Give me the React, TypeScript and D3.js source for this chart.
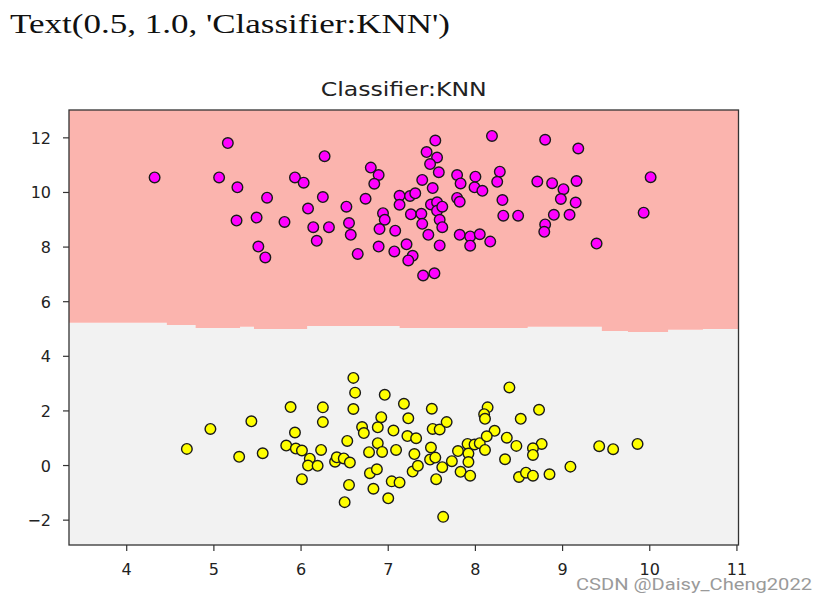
import React from "react";
import * as d3 from "d3";

// ---- data ----
const xTicks = [4, 5, 6, 7, 8, 9, 10, 11];
const yTicks = [-2, 0, 2, 4, 6, 8, 10, 12];
const xDomain = [3.338, 11.018];
const yDomain = [-2.91, 13.02];

// decision boundary of the KNN classifier (step edge between the two regions)
const boundaryX = [3.338, 4.46, 4.79, 5.3, 5.46, 6.07, 7.13, 8.6, 9.45, 9.75, 10.21, 10.61, 11.018];
const boundaryY = [5.23, 5.15, 5.04, 5.08, 5.0, 5.11, 5.04, 5.08, 4.93, 4.89, 4.97, 5.0, 5.0];

// class 0 (magenta)
const magentaX = [
  4.32, 5.16, 5.06, 5.27, 5.61, 5.26, 5.49, 5.81, 5.51, 5.59, 5.93, 6.03, 6.27, 6.08, 6.25, 6.14, 6.32, 6.18,
  6.52, 6.55, 6.57, 6.65, 6.8, 6.89, 6.84, 6.74, 6.94, 6.96, 6.9, 7.08, 6.89, 7.07, 7.21, 7.28, 7.23, 7.4,
  7.53, 7.13, 7.13, 7.25, 7.31, 7.26, 7.39, 7.51, 7.44, 7.54, 7.56, 7.48, 7.58, 7.38, 7.39, 7.46, 7.49, 7.56,
  7.56, 7.62, 7.59, 7.62, 7.59, 7.79, 7.83, 7.79, 7.82, 7.82, 7.94, 8.05, 8.17, 7.94, 8.19, 8.8, 9.18, 10.01,
  9.93, 9.39, 8.0, 7.99, 8.08, 8.28, 8.25, 8.31, 8.32, 8.49, 8.71, 8.88, 9.01, 9.16, 8.98, 9.15, 8.9, 9.08,
  8.8, 8.79,
];
const magentaY = [
  10.55, 11.81, 10.55, 10.19, 9.81, 8.97, 9.08, 8.92, 8.02, 7.62, 10.55, 10.36, 11.33, 9.41, 9.83, 8.73, 8.73, 8.23,
  9.48, 8.88, 8.45, 7.75, 10.91, 10.64, 10.32, 9.77, 9.24, 9.0, 8.66, 8.6, 8.02, 7.84, 8.1, 7.68, 7.51, 6.96,
  7.04, 9.88, 9.55, 9.87, 9.97, 9.2, 10.46, 10.16, 11.48, 11.9, 11.28, 11.04, 10.74, 9.22, 8.85, 8.45, 9.56, 9.64,
  9.33, 9.48, 9.0, 8.73, 8.06, 10.64, 10.33, 9.8, 9.66, 8.45, 8.39, 8.47, 8.2, 8.05, 12.07, 11.93, 11.61, 10.56,
  9.26, 8.13, 10.58, 10.19, 10.06, 10.76, 10.39, 9.72, 9.15, 9.15, 10.4, 10.34, 10.12, 10.42, 9.76, 9.63, 9.18, 9.18,
  8.83, 8.56,
];

// class 1 (yellow)
const yellowX = [
  4.69, 4.96, 5.29, 5.43, 5.56, 5.88, 5.93, 5.83, 5.94, 6.01, 6.1, 6.08, 6.19, 6.01, 6.25, 6.25, 6.23, 6.39,
  6.41, 6.49, 6.53, 6.56, 6.6, 6.62, 6.6, 6.7, 6.72, 6.55, 6.5, 6.96, 6.92, 6.88, 7.06, 6.88, 6.78, 6.93,
  7.09, 6.79, 6.87, 6.83, 7.04, 7.13, 7.0, 7.18, 7.23, 7.22, 7.32, 7.3, 7.28, 7.34, 7.5, 7.51, 7.59, 7.67,
  7.49, 7.48, 7.54, 7.62, 7.55, 7.73, 7.8, 7.83, 7.94, 7.91, 7.99, 7.92, 7.92, 8.05, 8.11, 8.14, 8.1, 8.11,
  8.22, 8.13, 8.39, 8.36, 8.34, 8.47, 8.52, 8.73, 8.76, 8.66, 8.66, 8.5, 8.58, 8.66, 8.85, 9.09, 9.42, 9.58,
  9.86, 7.63,
];
const yellowY = [
  0.61, 1.34, 0.32, 1.62, 0.45, 2.14, 1.21, 0.73, 0.62, 0.55, 0.25, 0.0, -0.01, -0.5, 2.13, 1.59, 0.57, 0.14,
  0.3, 0.26, 0.9, 0.11, 3.21, 2.67, 2.07, 1.41, 1.19, -0.71, -1.34, 2.59, 1.77, 1.4, 1.28, 0.82, 0.49, 0.5,
  0.57, -0.28, -0.14, -0.85, -0.58, -0.62, -1.2, 2.26, 1.73, 1.08, 1.0, 0.42, -0.22, -0.01, 2.08, 1.34, 1.32, 1.59,
  0.66, 0.22, 0.29, -0.06, -0.5, 0.16, 0.53, -0.23, -0.37, 0.79, 0.77, 0.44, 0.13, 0.82, 0.57, 2.13, 1.88, 1.71,
  1.27, 1.07, 2.86, 1.02, 0.23, 0.72, 1.71, 2.04, 0.79, 0.63, 0.39, -0.42, -0.26, -0.37, -0.32, -0.04, 0.71, 0.6,
  0.79, -1.88,
];

const W = 819;
const H = 603;
const plot = { left: 69, right: 738.5, top: 110, bottom: 545 };

export default function App() {
  const x = d3.scaleLinear().domain(xDomain).range([plot.left, plot.right]);
  const y = d3.scaleLinear().domain(yDomain).range([plot.bottom, plot.top]);

  const boundary = boundaryX.map((bx, i) => ({ x: bx, y: boundaryY[i] }));
  const redArea = d3
    .area<{ x: number; y: number }>()
    .x((d) => x(d.x))
    .y0(y(yDomain[1]))
    .y1((d) => y(d.y))
    .curve(d3.curveStepAfter);
  const greyArea = d3
    .area<{ x: number; y: number }>()
    .x((d) => x(d.x))
    .y0(y(yDomain[0]))
    .y1((d) => y(d.y))
    .curve(d3.curveStepAfter);

  const magenta = magentaX.map((mx, i) => [mx, magentaY[i]]);
  const yellow = yellowX.map((yx, i) => [yx, yellowY[i]]);
  const axisColor = "#333";
  const tickFont = "DejaVu Sans, sans-serif";

  return (
    <svg
      width={W}
      height={H}
      style={{ position: "absolute", left: 0, top: 0, background: "#fff" }}
    >
      <text
        x={10}
        y={33}
        fontFamily="Liberation Serif, serif"
        fontSize={27}
        textLength={440}
        lengthAdjust="spacingAndGlyphs"
        fill="#111"
      >
        Text(0.5, 1.0, 'Classifier:KNN')
      </text>

      <text
        x={(plot.left + plot.right) / 2}
        y={96}
        textAnchor="middle"
        fontFamily={tickFont}
        fontSize={19}
        textLength={166}
        lengthAdjust="spacingAndGlyphs"
        fill="#222"
      >
        Classifier:KNN
      </text>

      <defs>
        <clipPath id="plotclip">
          <rect x={plot.left} y={plot.top} width={plot.right - plot.left} height={plot.bottom - plot.top} />
        </clipPath>
      </defs>
      <g clipPath="url(#plotclip)">
        <path d={greyArea(boundary) || ""} fill="#f2f2f2" />
        <path d={redArea(boundary) || ""} fill="#fbb4ae" />
        {magenta.map((p, i) => (
          <circle key={"m" + i} cx={x(p[0])} cy={y(p[1])} r={5.3} fill="#ff00ff" stroke="#1a1a1a" strokeWidth={1.4} />
        ))}
        {yellow.map((p, i) => (
          <circle key={"y" + i} cx={x(p[0])} cy={y(p[1])} r={5.3} fill="#ffff00" stroke="#1a1a1a" strokeWidth={1.4} />
        ))}
      </g>

      <rect
        x={plot.left}
        y={plot.top}
        width={plot.right - plot.left}
        height={plot.bottom - plot.top}
        fill="none"
        stroke={axisColor}
        strokeWidth={1.3}
      />

      {xTicks.map((t) => (
        <g key={"xt" + t}>
          <line x1={x(t)} x2={x(t)} y1={plot.bottom} y2={plot.bottom + 6} stroke={axisColor} strokeWidth={1.2} />
          <text
            x={x(t)}
            y={plot.bottom + 30}
            textAnchor="middle"
            fontFamily={tickFont}
            fontSize={16}
            fill="#222"
          >
            {t}
          </text>
        </g>
      ))}
      {yTicks.map((t) => (
        <g key={"yt" + t}>
          <line x1={plot.left - 6} x2={plot.left} y1={y(t)} y2={y(t)} stroke={axisColor} strokeWidth={1.2} />
          <text
            x={plot.left - 18}
            y={y(t) + 6}
            textAnchor="end"
            fontFamily={tickFont}
            fontSize={16}
            fill="#222"
          >
            {t < 0 ? "\u2212" + Math.abs(t) : t}
          </text>
        </g>
      ))}

      <text
        x={576}
        y={590}
        fontFamily="Roboto, sans-serif"
        fontSize={17}
        textLength={236}
        lengthAdjust="spacingAndGlyphs"
        fill="#9a9a9a"
      >
        CSDN @Daisy_Cheng2022
      </text>
    </svg>
  );
}
